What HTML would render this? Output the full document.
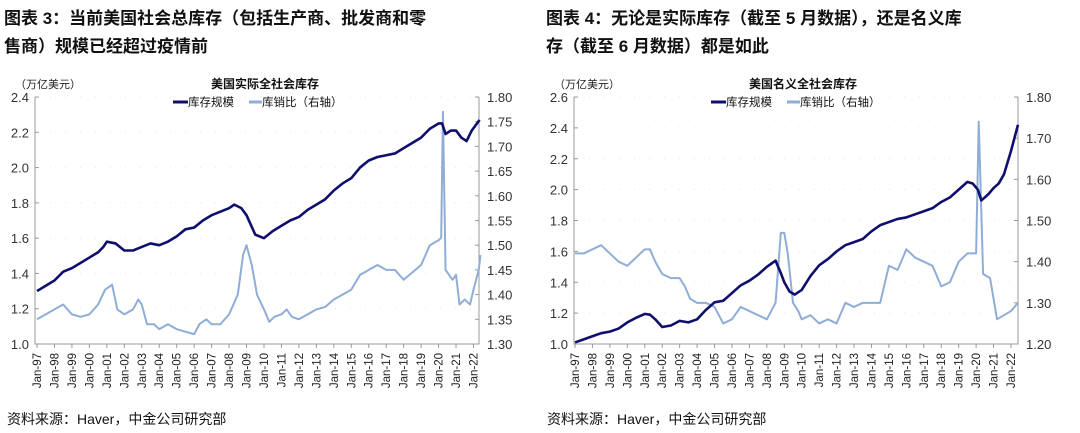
<!DOCTYPE html>
<html><head><meta charset="utf-8"><style>
body{margin:0;background:#fff;width:1080px;height:433px;overflow:hidden}
svg{display:block;font-family:"Liberation Sans","Noto Sans CJK SC",sans-serif}
</style></head><body>
<svg id="c" width="1080" height="433" xmlns="http://www.w3.org/2000/svg">
<g font-weight="bold" font-size="17" fill="#111" font-family="Liberation Sans, Noto Sans CJK SC, sans-serif">
<text x="4" y="24">图表 3：当前美国社会总库存（包括生产商、批发商和零</text>
<text x="4" y="52">售商）规模已经超过疫情前</text>
<text x="546" y="24">图表 4：无论是实际库存（截至 5 月数据），还是名义库</text>
<text x="546" y="52">存（截至 6 月数据）都是如此</text>
</g>
<text x="7" y="424" font-size="14" fill="#111">资料来源：Haver，中金公司研究部</text>
<text x="547" y="424" font-size="14" fill="#111">资料来源：Haver，中金公司研究部</text>
</svg>
<script>
// Left chart: real inventory
const leftInvYears=[1997,1997.5,1998,1998.5,1999,1999.5,2000,2000.5,2000.8,2001,2001.5,2002,2002.5,2003,2003.5,2004,2004.5,2005,2005.5,2006,2006.5,2007,2007.5,2008,2008.3,2008.7,2009,2009.5,2010,2010.5,2011,2011.5,2012,2012.5,2013,2013.5,2014,2014.5,2015,2015.5,2016,2016.5,2017,2017.5,2018,2018.5,2019,2019.5,2020,2020.2,2020.4,2020.7,2021,2021.3,2021.6,2021.9,2022.35];
const leftInvValues=[1.30,1.33,1.36,1.41,1.43,1.46,1.49,1.52,1.55,1.58,1.57,1.53,1.53,1.55,1.57,1.56,1.58,1.61,1.65,1.66,1.70,1.73,1.75,1.77,1.79,1.77,1.73,1.62,1.60,1.64,1.67,1.70,1.72,1.76,1.79,1.82,1.87,1.91,1.94,2.00,2.04,2.06,2.07,2.08,2.11,2.14,2.17,2.22,2.25,2.25,2.19,2.21,2.21,2.17,2.15,2.21,2.27];
const leftRatioYears=[1997,1997.5,1998,1998.5,1999,1999.5,2000,2000.5,2000.9,2001.3,2001.6,2002,2002.5,2002.8,2003,2003.3,2003.7,2004,2004.5,2005,2005.5,2006,2006.3,2006.7,2007,2007.5,2008,2008.5,2008.8,2009,2009.3,2009.6,2010,2010.3,2010.6,2011,2011.3,2011.6,2012,2012.5,2013,2013.5,2014,2014.5,2015,2015.5,2016,2016.5,2017,2017.5,2018,2018.5,2019,2019.5,2020,2020.15,2020.25,2020.4,2020.8,2021,2021.2,2021.5,2021.8,2022,2022.3,2022.4];
const leftRatioValues=[1.35,1.36,1.37,1.38,1.36,1.355,1.36,1.38,1.41,1.42,1.37,1.36,1.37,1.39,1.38,1.34,1.34,1.33,1.34,1.33,1.325,1.32,1.34,1.35,1.34,1.34,1.36,1.40,1.48,1.50,1.46,1.40,1.37,1.345,1.355,1.36,1.37,1.355,1.35,1.36,1.37,1.375,1.39,1.40,1.41,1.44,1.45,1.46,1.45,1.45,1.43,1.445,1.46,1.50,1.51,1.515,1.77,1.45,1.43,1.44,1.38,1.39,1.38,1.41,1.45,1.48];
// Right chart: nominal inventory
const rightInvYears=[1997,1997.5,1998,1998.5,1999,1999.5,2000,2000.5,2001,2001.3,2001.6,2002,2002.5,2003,2003.5,2004,2004.5,2005,2005.5,2006,2006.5,2007,2007.5,2008,2008.5,2008.8,2009,2009.3,2009.6,2010,2010.5,2011,2011.5,2012,2012.5,2013,2013.5,2014,2014.5,2015,2015.5,2016,2016.5,2017,2017.5,2018,2018.5,2019,2019.5,2019.8,2020.1,2020.3,2020.7,2021,2021.3,2021.6,2022,2022.4];
const rightInvValues=[1.01,1.03,1.05,1.07,1.08,1.10,1.14,1.17,1.195,1.19,1.16,1.11,1.12,1.15,1.14,1.16,1.22,1.27,1.28,1.33,1.38,1.41,1.45,1.50,1.54,1.46,1.40,1.34,1.32,1.35,1.44,1.51,1.55,1.60,1.64,1.66,1.68,1.73,1.77,1.79,1.81,1.82,1.84,1.86,1.88,1.92,1.95,2.00,2.05,2.04,2.00,1.93,1.97,2.01,2.04,2.10,2.25,2.42];
const rightRatioYears=[1997,1997.5,1998,1998.5,1999,1999.5,2000,2000.5,2001,2001.3,2001.6,2002,2002.5,2003,2003.3,2003.6,2004,2004.5,2005,2005.5,2006,2006.5,2007,2007.5,2008,2008.5,2008.8,2009,2009.2,2009.5,2009.8,2010,2010.5,2011,2011.5,2012,2012.5,2013,2013.5,2014,2014.5,2015,2015.5,2016,2016.5,2017,2017.5,2018,2018.5,2019,2019.5,2020,2020.15,2020.4,2020.8,2021,2021.2,2021.6,2022,2022.4];
const rightRatioValues=[1.42,1.42,1.43,1.44,1.42,1.40,1.39,1.41,1.43,1.43,1.40,1.37,1.36,1.36,1.34,1.31,1.30,1.30,1.29,1.25,1.26,1.29,1.28,1.27,1.26,1.30,1.47,1.47,1.42,1.30,1.28,1.26,1.27,1.25,1.26,1.25,1.30,1.29,1.30,1.30,1.30,1.39,1.38,1.43,1.41,1.40,1.39,1.34,1.35,1.40,1.42,1.42,1.74,1.37,1.36,1.31,1.26,1.27,1.28,1.30];
const leftTicks=[1.0,1.2,1.4,1.6,1.8,2.0,2.2,2.4];
const leftRTicks=[1.30,1.35,1.40,1.45,1.50,1.55,1.60,1.65,1.70,1.75,1.80];
const rightTicks=[1.0,1.2,1.4,1.6,1.8,2.0,2.2,2.4,2.6];
const rightRTicks=[1.20,1.30,1.40,1.50,1.60,1.70,1.80];
const yearLabels=['97','98','99','00','01','02','03','04','05','06','07','08','09','10','11','12','13','14','15','16','17','18','19','20','21','22'];

const NS='http://www.w3.org/2000/svg';
const svg=document.getElementById('c');
function mk(tag,attrs,parent,text){const e=document.createElementNS(NS,tag);for(const k in attrs)e.setAttribute(k,attrs[k]);if(text!==undefined)e.textContent=text;(parent||svg).appendChild(e);return e;}

function chart(p){
  const g=mk('g',{});
  
  
  const x=yr=>p.x0+(yr-1997)*(p.x1-p.x0)/25;
  const yL=v=>p.yb-(v-p.lmin)/(p.lmax-p.lmin)*(p.yb-p.yt);
  const yR=v=>p.yb-(v-p.rmin)/(p.rmax-p.rmin)*(p.yb-p.yt);
  // faint dotted grid
  p.lt.forEach(v=>{const l=mk('line',{x1:p.ax0,x2:p.ax1,y1:yL(v),y2:yL(v),stroke:'#e4e4e4','stroke-dasharray':'1 14'},g);
    
    });
  // axes
  const ax=mk('path',{d:`M${p.ax0},${p.yt}V${p.yb}H${p.ax1}V${p.yt}`,fill:'none',stroke:'#999','stroke-width':1},g);
  
  
  p.lt.forEach(v=>{
    mk('line',{x1:p.ax0,x2:p.ax0+4,y1:yL(v),y2:yL(v),stroke:'#999'},g);
    const t=mk('text',{x:p.ax0-6,y:yL(v)+5,'text-anchor':'end','font-size':13,fill:'#333'},g,v.toFixed(1));
    
    
  });
  p.rt.forEach(v=>{
    mk('line',{x1:p.ax1-4,x2:p.ax1,y1:yR(v),y2:yR(v),stroke:'#999'},g);
    const t=mk('text',{x:p.ax1+8,y:yR(v)+5,'font-size':13,fill:'#333'},g,v.toFixed(2));
    
    
  });
  yearLabels.forEach((lab,i)=>{
    const xx=x(1997+i);
    mk('line',{x1:xx,x2:xx,y1:p.yb,y2:p.yb+4,stroke:'#999'},g);
    const t=mk('text',{transform:`translate(${xx+4},${p.yb+9}) rotate(-90)`,'text-anchor':'end','font-size':11.5,fill:'#222'},g,'Jan-'+lab);
    
    
  });
  const unit=mk('text',{x:p.ax0-20,y:88,'font-size':11,fill:'#222'},g,'（万亿美元）');
  
  
  const tt=mk('text',{x:p.cx,y:88,'text-anchor':'middle','font-size':12,'font-weight':'bold',fill:'#111'},g,p.title);
  
  
  // legend
  const lg=mk('g',{},g);
  
  
  mk('line',{x1:p.cx-92,x2:p.cx-77,y1:102,y2:102,stroke:'#0f0f6e','stroke-width':3},lg);
  mk('text',{x:p.cx-77,y:106,'font-size':11.5,fill:'#111'},lg,'库存规模');
  mk('line',{x1:p.cx-16,x2:p.cx-3,y1:102,y2:102,stroke:'#8fadd6','stroke-width':3},lg);
  mk('text',{x:p.cx-3,y:106,'font-size':11.5,fill:'#111'},lg,'库销比（右轴）');
  const ratio=mk('polyline',{points:p.ry.map((yr,i)=>x(yr)+','+yR(p.rv[i])).join(' '),fill:'none',stroke:'#8fadd6','stroke-width':2,'stroke-linejoin':'round'},g);
  
  
  const inv=mk('polyline',{points:p.iy.map((yr,i)=>x(yr)+','+yL(p.iv[i])).join(' '),fill:'none',stroke:'#0f0f6e','stroke-width':2.6,'stroke-linejoin':'round'},g);
  
  
}
chart({name:'left-chart-real-inventory',title:'美国实际全社会库存',x0:37,x1:473.5,ax0:35,ax1:479,yt:97,yb:344,cx:265,lmin:1.0,lmax:2.4,rmin:1.30,rmax:1.80,lt:leftTicks,rt:leftRTicks,iy:leftInvYears,iv:leftInvValues,ry:leftRatioYears,rv:leftRatioValues});
chart({name:'right-chart-nominal-inventory',title:'美国名义全社会库存',x0:575,x1:1011,ax0:574,ax1:1018,yt:97,yb:344,cx:803,lmin:1.0,lmax:2.6,rmin:1.20,rmax:1.80,lt:rightTicks,rt:rightRTicks,iy:rightInvYears,iv:rightInvValues,ry:rightRatioYears,rv:rightRatioValues});
</script>
</body></html>
